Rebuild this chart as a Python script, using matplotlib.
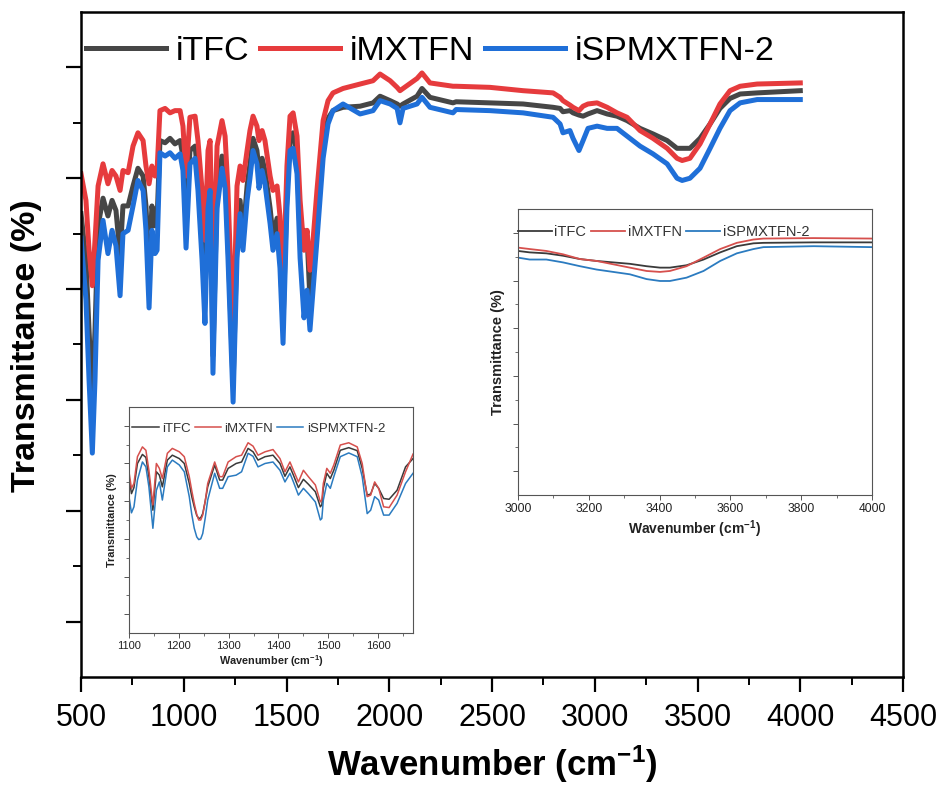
import matplotlib
matplotlib.use("Agg")
import matplotlib.pyplot as plt
from matplotlib.ticker import MultipleLocator, NullFormatter

plt.rcParams['mathtext.default'] = 'regular'

ARIAL = ['Liberation Sans', 'DejaVu Sans']

labels = ['iTFC', 'iMXTFN', 'iSPMXTFN-2']

# full spectrum (wavenumber, transmittance in arbitrary %)
wn_main = [500, 524, 539, 555, 568, 583, 607, 631, 651, 670,
           690, 704, 729, 753, 777, 802, 816, 831, 845, 860,
           870, 884, 909, 933, 957, 982, 996, 1011, 1030, 1055,
           1069, 1089, 1103, 1118, 1128, 1142, 1162, 1186, 1201, 1215,
           1240, 1259, 1274, 1288, 1308, 1322, 1337, 1356, 1366, 1381,
           1395, 1420, 1434, 1454, 1468, 1483, 1502, 1517, 1532, 1551,
           1566, 1585, 1600, 1614, 1629, 1648, 1678, 1702, 1726, 1775,
           1858, 1921, 1955, 2004, 2038, 2052, 2067, 2135, 2159, 2198,
           2310, 2325, 2490, 2651, 2797, 2831, 2845, 2879, 2894, 2923,
           2943, 2967, 3011, 3060, 3108, 3157, 3220, 3283, 3352, 3400,
           3425, 3463, 3512, 3561, 3609, 3658, 3707, 3790, 4000]

itfc_main = [41.8, 37.6, 31.3, 25.0, 31.3, 40.7, 43.2, 41.6, 43.0, 42.1,
             38.0, 42.5, 42.5, 44.3, 45.9, 45.2, 42.5, 36.7, 42.5, 40.7,
             41.2, 48.4, 48.2, 48.6, 48.1, 48.4, 47.0, 40.7, 47.5, 47.9,
             45.2, 39.8, 34.0, 43.9, 45.2, 29.0, 43.9, 47.0, 45.7, 39.4,
             26.3, 39.4, 43.0, 39.8, 44.3, 46.3, 48.6, 47.5, 45.7, 46.8,
             45.7, 42.3, 39.8, 41.4, 38.5, 31.7, 43.9, 48.8, 49.1, 46.8,
             39.8, 40.3, 39.8, 34.0, 36.7, 40.7, 47.9, 50.4, 51.1, 51.4,
             51.5, 51.8, 52.4, 52.0, 51.7, 51.5, 51.7, 52.4, 53.1, 52.3,
             51.8, 51.9, 51.8, 51.7, 51.4, 51.3, 51.0, 51.1, 50.9, 50.7,
             50.6, 50.8, 51.1, 50.8, 50.6, 50.2, 49.5, 49.0, 48.4, 47.7,
             47.7, 47.7, 48.6, 49.9, 51.3, 52.2, 52.6, 52.7, 52.9]

imxtfn_main = [45.4, 43.0, 38.5, 35.3, 39.4, 44.3, 46.3, 44.5, 45.7, 45.2,
               43.9, 45.7, 45.5, 47.9, 49.1, 48.4, 46.1, 44.5, 46.1, 45.2,
               45.7, 51.1, 51.3, 50.9, 51.1, 51.1, 49.7, 45.2, 50.5, 50.6,
               48.4, 43.9, 39.4, 47.5, 48.4, 35.8, 47.9, 50.2, 48.8, 43.9,
               30.4, 44.3, 46.1, 44.8, 47.5, 49.3, 50.6, 49.7, 48.4, 49.3,
               48.4, 45.2, 43.9, 44.3, 41.6, 34.9, 46.1, 50.6, 50.9, 48.8,
               43.0, 38.5, 40.3, 36.7, 39.4, 43.9, 50.2, 52.0, 52.7, 53.1,
               53.5, 53.8, 54.4, 53.8, 53.2, 52.9, 53.1, 54.0, 54.5, 53.6,
               53.3, 53.3, 53.2, 52.9, 52.7, 52.3, 52.0, 51.6, 51.4, 51.1,
               51.5, 51.7, 51.8, 51.4, 50.9, 50.5, 49.3, 48.6, 47.7, 46.8,
               46.6, 46.8, 48.1, 49.9, 51.7, 52.9, 53.3, 53.5, 53.6]

ispm_main = [39.6, 34.0, 26.8, 20.2, 26.8, 37.6, 41.2, 38.2, 40.3, 38.9,
             34.4, 40.0, 40.3, 42.5, 44.8, 43.9, 40.3, 33.3, 40.3, 38.2,
             38.5, 47.3, 47.0, 47.3, 46.8, 47.2, 45.7, 38.7, 46.3, 46.8,
             43.9, 37.6, 31.9, 42.3, 43.9, 27.4, 42.3, 45.9, 44.1, 37.8,
             24.8, 37.8, 41.8, 38.5, 43.0, 45.0, 47.5, 46.3, 44.1, 45.7,
             44.5, 40.9, 38.5, 40.0, 36.9, 30.1, 42.3, 47.5, 47.7, 45.4,
             37.8, 32.4, 34.9, 31.3, 34.9, 39.4, 46.8, 49.9, 51.1, 51.7,
             50.8, 51.1, 52.0, 51.7, 51.3, 50.0, 51.3, 51.7, 52.3, 51.4,
             50.9, 51.2, 51.1, 50.9, 50.5, 49.9, 49.1, 49.3, 48.6, 47.5,
             48.4, 49.5, 49.7, 49.5, 49.5, 48.8, 47.9, 47.2, 46.3, 45.0,
             44.8, 45.0, 45.9, 47.7, 49.5, 51.1, 51.8, 52.1, 52.1]

# fingerprint region inset
wn_fp = [1100, 1105, 1110, 1117, 1127, 1134, 1140, 1148, 1155, 1161,
         1167, 1177, 1187, 1201, 1211, 1221, 1226, 1231, 1236, 1240,
         1244, 1248, 1253, 1258, 1272, 1282, 1288, 1299, 1315, 1326,
         1339, 1349, 1359, 1373, 1389, 1403, 1413, 1423, 1430, 1440,
         1450, 1460, 1474, 1484, 1487, 1490, 1497, 1504, 1511, 1524,
         1541, 1558, 1568, 1578, 1585, 1593, 1601, 1611, 1622, 1638,
         1655, 1670]

itfc_fp = [4.15, 3.70, 3.86, 4.50, 4.74, 4.66, 4.15, 3.26, 4.28, 4.19,
           3.88, 4.59, 4.72, 4.63, 4.50, 3.97, 3.62, 3.35, 3.12, 3.04,
           3.06, 3.17, 3.50, 3.88, 4.46, 4.06, 4.06, 4.37, 4.50, 4.54,
           4.90, 4.81, 4.59, 4.68, 4.72, 4.50, 4.16, 4.41, 4.19, 3.86,
           4.08, 3.95, 3.75, 3.35, 3.40, 3.84, 4.24, 4.10, 4.32, 4.85,
           4.92, 4.84, 4.37, 3.66, 3.69, 3.97, 3.84, 3.57, 3.55, 3.79,
           4.41, 4.63]

imxtfn_fp = [4.28, 3.84, 3.97, 4.68, 4.94, 4.85, 4.32, 3.40, 4.50, 4.37,
             4.10, 4.77, 4.90, 4.81, 4.68, 4.15, 3.78, 3.44, 3.15, 3.00,
             3.00, 3.13, 3.50, 3.97, 4.54, 4.15, 4.15, 4.54, 4.68, 4.72,
             5.05, 4.96, 4.72, 4.81, 4.87, 4.63, 4.28, 4.54, 4.32, 4.01,
             4.32, 4.15, 3.93, 3.48, 3.53, 3.97, 4.37, 4.24, 4.46, 4.99,
             5.05, 4.94, 4.50, 3.62, 3.66, 4.01, 3.84, 3.35, 3.33, 3.66,
             4.28, 4.75]

ispm_fp = [3.62, 3.19, 3.35, 4.06, 4.54, 4.41, 3.88, 2.78, 3.79, 4.01,
           3.53, 4.41, 4.59, 4.46, 4.28, 3.62, 3.15, 2.78, 2.55, 2.48,
           2.50, 2.64, 3.05, 3.53, 4.24, 3.84, 3.84, 4.15, 4.19, 4.28,
           4.77, 4.69, 4.41, 4.50, 4.54, 4.32, 4.01, 4.24, 4.01, 3.66,
           3.84, 3.70, 3.48, 3.00, 3.04, 3.53, 3.97, 3.84, 4.15, 4.68,
           4.78, 4.68, 4.15, 3.17, 3.26, 3.62, 3.53, 3.13, 3.13, 3.44,
           3.97, 4.24]

# O-H region inset
wn_oh = [3000, 3033, 3080, 3127, 3175, 3222, 3269, 3316, 3363, 3401,
         3429, 3476, 3524, 3571, 3618, 3665, 3693, 3835, 4000]
itfc_oh = [5.12, 5.09, 5.07, 5.02, 4.95, 4.91, 4.88, 4.85, 4.80, 4.77,
           4.77, 4.82, 4.94, 5.09, 5.22, 5.28, 5.29, 5.30, 5.30]
imxtfn_oh = [5.19, 5.16, 5.12, 5.05, 4.95, 4.91, 4.84, 4.77, 4.70, 4.68,
             4.70, 4.80, 4.98, 5.16, 5.29, 5.36, 5.38, 5.39, 5.38]
ispm_oh = [4.98, 4.94, 4.94, 4.88, 4.80, 4.73, 4.68, 4.63, 4.53, 4.49,
           4.49, 4.56, 4.70, 4.91, 5.07, 5.16, 5.20, 5.22, 5.20]

main_colors = ['#464646', '#e63b3d', '#1f6fd8']
inset_colors = ['#3a3a3a', '#d6504d', '#2b7bc0']

fig = plt.figure(figsize=(9.4, 7.89), dpi=100)
ax = fig.add_axes([0.0862, 0.142, 0.8745, 0.8428])

for ys, c, lab in zip([itfc_main, imxtfn_main, ispm_main], main_colors, labels):
    ax.plot(wn_main, ys, color=c, lw=3.6, label=lab, solid_joinstyle='round')

ax.set_xlim(500, 4500)
ax.set_ylim(0, 60)
ax.xaxis.set_major_locator(MultipleLocator(500))
ax.xaxis.set_minor_locator(MultipleLocator(250))
ax.set_yticks([5, 15, 25, 35, 45, 55])
ax.set_yticks([10, 20, 30, 40, 50], minor=True)
ax.yaxis.set_major_formatter(NullFormatter())
for s in ax.spines.values():
    s.set_linewidth(1.8)
ax.tick_params(which='major', direction='out', length=11, width=1.6, pad=8)
ax.tick_params(which='minor', direction='out', length=6, width=1.4)
for t in ax.get_xticklabels():
    t.set_fontfamily(ARIAL)
    t.set_fontsize(22)

ax.set_xlabel(r'Wavenumber (cm$^{-1}$)', family=ARIAL, fontsize=25, fontweight='bold')
ax.xaxis.set_label_coords(0.5, -0.1)
ax.set_ylabel('Transmittance (%)', family=ARIAL, fontsize=24.5, fontweight='bold')
ax.yaxis.set_label_coords(-0.047, 0.498)

ax.legend(loc='center left', bbox_to_anchor=(0.006, 0.94), ncol=3, frameon=False,
          prop={'family': ARIAL, 'size': 24.5}, handlelength=2.35,
          handletextpad=0.3, columnspacing=0.3, borderaxespad=0, borderpad=0)


def style_inset(a, fs_tick, lw_spine=0.8):
    for s in a.spines.values():
        s.set_linewidth(lw_spine)
        s.set_color('#555555')
    a.set_ylim(0, 6)
    a.set_yticks([0.5, 1.5, 2.5, 3.5, 4.5, 5.5])
    a.set_yticks([1, 2, 3, 4, 5], minor=True)
    a.yaxis.set_major_formatter(NullFormatter())
    a.tick_params(which='major', direction='out', length=3.5, width=0.7,
                  colors='#555555', labelcolor='#222222', labelsize=fs_tick, pad=2)
    a.tick_params(which='minor', direction='out', length=2, width=0.6, colors='#555555')
    for t in a.get_xticklabels():
        t.set_fontfamily(ARIAL)


# inset 1: fingerprint region
ax1 = fig.add_axes([0.1372, 0.1977, 0.3022, 0.2865])
for ys, c, lab in zip([itfc_fp, imxtfn_fp, ispm_fp], inset_colors, labels):
    ax1.plot(wn_fp, ys, color=c, lw=1.1, label=lab)
ax1.set_xlim(1100, 1670)
ax1.xaxis.set_major_locator(MultipleLocator(100))
ax1.xaxis.set_minor_locator(MultipleLocator(50))
style_inset(ax1, 8)
ax1.set_xlabel(r'Wavenumber (cm$^{-1}$)', family=ARIAL, fontsize=7.8,
               fontweight='bold', labelpad=2, color='#222222')
ax1.set_ylabel('Transmittance (%)', family=ARIAL, fontsize=7.8,
               fontweight='bold', labelpad=3, color='#222222')
ax1.legend(loc='center left', bbox_to_anchor=(0.012, 0.905), ncol=3, frameon=False,
           prop={'family': ARIAL, 'size': 9.5}, handlelength=2.0,
           handletextpad=0.25, columnspacing=0.3, borderaxespad=0, borderpad=0,
           labelcolor='#333333')

# inset 2: O-H region
ax2 = fig.add_axes([0.5511, 0.3726, 0.3766, 0.3625])
for ys, c, lab in zip([itfc_oh, imxtfn_oh, ispm_oh], inset_colors, labels):
    ax2.plot(wn_oh, ys, color=c, lw=1.3, label=lab)
ax2.set_xlim(3000, 4000)
ax2.xaxis.set_major_locator(MultipleLocator(200))
ax2.xaxis.set_minor_locator(MultipleLocator(100))
style_inset(ax2, 8.7)
ax2.set_xlabel(r'Wavenumber (cm$^{-1}$)', family=ARIAL, fontsize=10,
               fontweight='bold', labelpad=3, color='#222222')
ax2.set_ylabel('Transmittance (%)', family=ARIAL, fontsize=10.5,
               fontweight='bold', labelpad=4, color='#222222')
ax2.legend(loc='center left', bbox_to_anchor=(0.0, 0.92), ncol=3, frameon=False,
           prop={'family': ARIAL, 'size': 10.5}, handlelength=2.3,
           handletextpad=0.2, columnspacing=0.33, borderaxespad=0, borderpad=0,
           labelcolor='#333333')

fig.savefig('out.png', dpi=100, facecolor='white')
